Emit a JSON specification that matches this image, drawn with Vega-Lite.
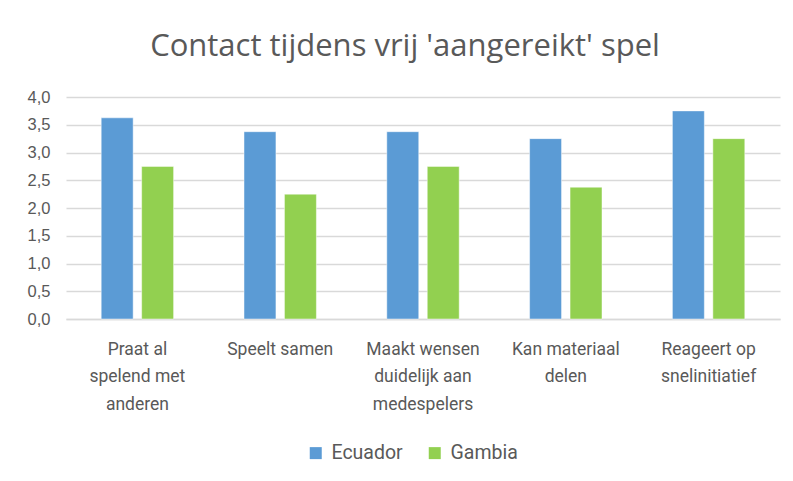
{
  "$schema": "https://vega.github.io/schema/vega-lite/v6.json",
  "width": 714,
  "height": 222,
  "autosize": {"type": "none"},
  "padding": {"left": 66, "top": 97, "right": 13, "bottom": 162},
  "background": "white",
  "config": {
    "font": "Liberation Sans",
    "view": {"stroke": null}
  },
  "title": {
    "text": "Contact tijdens vrij 'aangereikt' spel",
    "font": "Open Sans",
    "fontSize": 31,
    "fontWeight": "normal",
    "color": "#595959",
    "anchor": "middle",
    "dx": -18,
    "offset": 26
  },
  "data": {
    "values": [
      {"categorie": "Praat al spelend met anderen", "land": "Ecuador", "waarde": 3.625},
      {"categorie": "Praat al spelend met anderen", "land": "Gambia", "waarde": 2.75},
      {"categorie": "Speelt samen", "land": "Ecuador", "waarde": 3.375},
      {"categorie": "Speelt samen", "land": "Gambia", "waarde": 2.25},
      {"categorie": "Maakt wensen duidelijk aan medespelers", "land": "Ecuador", "waarde": 3.375},
      {"categorie": "Maakt wensen duidelijk aan medespelers", "land": "Gambia", "waarde": 2.75},
      {"categorie": "Kan materiaal delen", "land": "Ecuador", "waarde": 3.25},
      {"categorie": "Kan materiaal delen", "land": "Gambia", "waarde": 2.375},
      {"categorie": "Reageert op snelinitiatief", "land": "Ecuador", "waarde": 3.75},
      {"categorie": "Reageert op snelinitiatief", "land": "Gambia", "waarde": 3.25}
    ]
  },
  "mark": {"type": "bar", "stroke": "white", "strokeWidth": 0.8, "strokeOpacity": 0.6},
  "encoding": {
    "x": {
      "field": "categorie",
      "type": "nominal",
      "sort": null,
      "scale": {"paddingInner": 0, "paddingOuter": 0},
      "axis": {
        "title": null,
        "labelAngle": 0,
        "labelFont": "Roboto",
        "labelFontSize": 17.5,
        "labelColor": "#595959",
        "labelLimit": 0,
        "labelLineHeight": 27.5,
        "labelPadding": 21,
        "labelBaseline": "top",
        "ticks": false,
        "domainColor": "#D9D9D9",
        "domainWidth": 1.3,
        "labelExpr": "datum.label == 'Praat al spelend met anderen' ? ['Praat al', 'spelend met', 'anderen'] : datum.label == 'Maakt wensen duidelijk aan medespelers' ? ['Maakt wensen', 'duidelijk aan', 'medespelers'] : datum.label == 'Kan materiaal delen' ? ['Kan materiaal', 'delen'] : datum.label == 'Reageert op snelinitiatief' ? ['Reageert op', 'snelinitiatief'] : datum.label"
      }
    },
    "xOffset": {
      "field": "land",
      "type": "nominal",
      "scale": {"paddingInner": 0.21, "paddingOuter": 0.87}
    },
    "y": {
      "field": "waarde",
      "type": "quantitative",
      "scale": {"domain": [0, 4], "nice": false},
      "axis": {
        "title": null,
        "values": [0, 0.5, 1, 1.5, 2, 2.5, 3, 3.5, 4],
        "labelExpr": "replace(format(datum.value, '.1f'), '.', ',')",
        "labelFontSize": 16.5,
        "labelColor": "#595959",
        "labelPadding": 16,
        "ticks": false,
        "domain": false,
        "gridColor": "#D9D9D9",
        "gridWidth": 1.3
      }
    },
    "color": {
      "field": "land",
      "type": "nominal",
      "scale": {"domain": ["Ecuador", "Gambia"], "range": ["#5B9BD5", "#92D050"]},
      "legend": {
        "title": null,
        "orient": "none",
        "legendX": 240,
        "legendY": 346,
        "direction": "horizontal",
        "symbolType": "square",
        "symbolSize": 144,
        "symbolStrokeWidth": 0,
        "labelFont": "Roboto",
        "labelFontSize": 19.5,
        "labelColor": "#595959",
        "labelOffset": 6,
        "columnPadding": 22
      }
    }
  }
}
